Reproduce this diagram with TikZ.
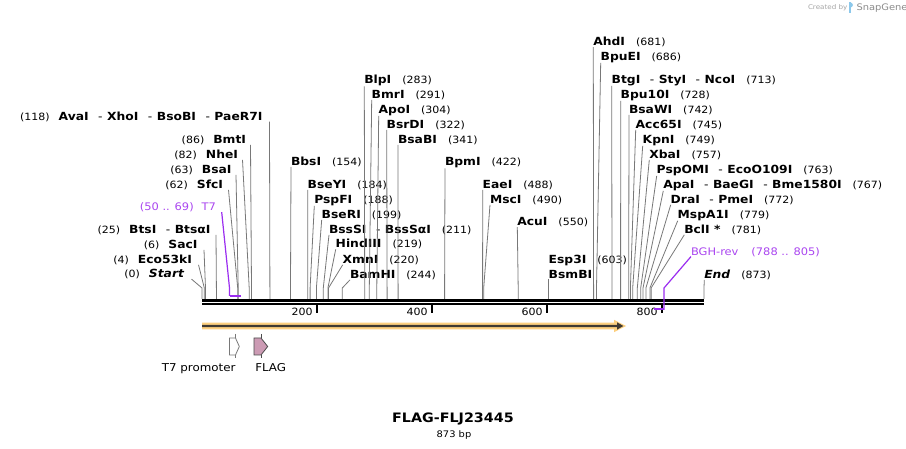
\documentclass[tikz,border=0pt]{standalone}
\usepackage{fontspec}
\setmainfont{DejaVu Sans}
\newfontfamily\vf[FakeStretch=1.1]{DejaVu Sans}
\newcommand\nmf{\vf\bfseries\fontsize{11.2}{12}\selectfont}
\newcommand\nbf{\vf\mdseries\upshape\fontsize{10}{11}\selectfont}
\newcommand\sepn{\hspace{9.5pt}{\mdseries -}\hspace{4.5pt}}
\definecolor{leadc}{RGB}{120,120,120}
\definecolor{purp}{RGB}{155,45,240}
\definecolor{purpt}{RGB}{170,70,240}
\definecolor{orangeL}{RGB}{253,208,128}
\definecolor{darkar}{RGB}{64,58,50}
\definecolor{flagc}{RGB}{204,155,180}
\definecolor{logoc}{RGB}{140,200,235}
\tikzset{
  lab/.style={inner sep=0pt,outer sep=0pt},
  lead/.style={draw=leadc,line width=0.8pt},
  prim/.style={draw=purp,line width=1.2pt},
  primbar/.style={draw=purp,line width=2pt},
  tick/.style={line width=1.6pt},
}
\newcommand\rlab[6]{%
  \node[lab,anchor=base west] (#1) at (#2,#3) {{\nmf #4}\hspace{11pt}{\nbf #5}};
  \coordinate (#1b) at (#6,288);
  \coordinate (#1s) at (#6,299);
  \draw[lead] (#1.south west) -- (#1b) -- (#1s);}
\newcommand\llab[7]{%
  \node[lab,anchor=base east] (#1) at (#2,#3) {{\nbf #4}\hspace{9pt}{\nmf #5}};
  \coordinate (#1b) at (#6,288);
  \coordinate (#1s) at (#6,299);
  \draw[lead] ([xshift=#7pt]#1.south east) -- (#1b) -- (#1s);}
\begin{document}
\begin{tikzpicture}[x=1pt,y=-1pt]
\useasboundingbox (0,0) rectangle (906,449);
\fill[white] (0,0) rectangle (906,449);

% watermark
\node[lab,anchor=base west,text=black!35,font=\vf\fontsize{6.5}{7}\selectfont] (wm1) at (808,10) {Created by};
\fill[logoc] (848.5,2.5) rectangle (850.5,13);
\fill[logoc] (850.5,2.5) -- (852,3.2) -- (853,5) -- (852,6.8) -- (850.5,7.5) -- cycle;
\node[lab,anchor=base west,text=black!45,font=\vf\fontsize{9}{10}\selectfont] (wm2) at (856.5,10.5) {SnapGene};

% left labels
\llab{lStart}{184}{277.8}{(0)}{{\itshape Start}}{202}{7.5}
\llab{lEco}{192}{263.5}{(4)}{Eco53kI}{204.3}{6.5}
\llab{lSac}{197.5}{248.5}{(6)}{SacI}{205.5}{6.5}
\llab{lBts}{210.5}{233.5}{(25)}{BtsI\sepn BtsαI}{216.4}{5.5}
\llab{lSfc}{223}{188.5}{(62)}{SfcI}{237.7}{5.5}
\llab{lBsa}{231.5}{173.5}{(63)}{BsaI}{238.2}{4.5}
\llab{lNhe}{238}{158.5}{(82)}{NheI}{249.2}{4.5}
\llab{lBmt}{246}{143.5}{(86)}{BmtI}{251.5}{4.5}
\llab{lAva}{262.5}{120.2}{(118)}{AvaI\sepn XhoI\sepn BsoBI\sepn PaeR7I}{269.9}{7}

% right labels
\rlab{rBbs}{291}{165.5}{BbsI}{(154)}{290.5}
\rlab{rBseY}{307.7}{188.5}{BseYI}{(184)}{307.8}
\rlab{rPspF}{314.3}{203.5}{PspFI}{(188)}{310.1}
\rlab{rBseR}{321.7}{218.5}{BseRI}{(199)}{316.4}
\rlab{rBssS}{329}{233.5}{BssSI\sepn BssSαI}{(211)}{323.3}
\rlab{rHind}{335.7}{248}{HindIII}{(219)}{327.9}
\rlab{rXmn}{342.7}{263.5}{XmnI}{(220)}{328.5}
\rlab{rBam}{350}{278.5}{BamHI}{(244)}{342.3}
\rlab{rBlp}{364.3}{84}{BlpI}{(283)}{364.7}
\rlab{rBmr}{371.7}{98.5}{BmrI}{(291)}{369.3}
\rlab{rApo}{378.7}{113.5}{ApoI}{(304)}{376.8}
\rlab{rBsrD}{386.7}{128.5}{BsrDI}{(322)}{387.1}
\rlab{rBsaB}{398}{143.5}{BsaBI}{(341)}{398.1}
\rlab{rBpm}{445}{166}{BpmI}{(422)}{444.6}
\rlab{rEae}{482.7}{188.5}{EaeI}{(488)}{482.6}
\rlab{rMsc}{490}{203.5}{MscI}{(490)}{483.7}
\rlab{rAcu}{517.3}{225.8}{AcuI}{(550)}{518.2}
\node[lab,anchor=base west] (rEsp) at (548.7,263.5) {{\nmf Esp3I}\hspace{11pt}{\nbf (603)}};
\rlab{rBsmB}{548.7}{278.5}{BsmBI}{}{548.7}
\rlab{rAhd}{593.3}{45.7}{AhdI}{(681)}{593.6}
\rlab{rBpuE}{600.7}{60.5}{BpuEI}{(686)}{596.5}
\rlab{rBtg}{611.7}{83.5}{BtgI\sepn StyI\sepn NcoI}{(713)}{612}
\rlab{rBpuT}{620.7}{98.5}{Bpu10I}{(728)}{620.6}
\rlab{rBsaW}{629}{113.5}{BsaWI}{(742)}{628.7}
\rlab{rAcc}{635.7}{128.5}{Acc65I}{(745)}{630.4}
\rlab{rKpn}{642.7}{143.5}{KpnI}{(749)}{632.7}
\rlab{rXba}{649.3}{158.5}{XbaI}{(757)}{637.3}
\rlab{rPspO}{656.7}{173.5}{PspOMI\sepn EcoO109I}{(763)}{640.7}
\rlab{rApa}{663.3}{188.5}{ApaI\sepn BaeGI\sepn Bme1580I}{(767)}{643}
\rlab{rDra}{670.7}{203.5}{DraI\sepn PmeI}{(772)}{645.9}
\rlab{rMsp}{677.7}{218.5}{MspA1I}{(779)}{649.9}
\rlab{rBcl}{684.3}{233.5}{BclI *}{(781)}{651.1}
\rlab{rEnd}{704.3}{278.5}{{\itshape End}}{(873)}{704}

% backbone
\coordinate (bbL) at (202,300.5); \coordinate (bbR) at (704,300.5);
\coordinate (bbL2) at (202,304.3); \coordinate (bbR2) at (704,304.3);
\draw[line width=3pt] (bbL) -- (bbR);
\draw[line width=1.8pt] (bbL2) -- (bbR2);

% ticks
\foreach \v/\xx in {200/317,400/432,600/547,800/662}{
  \coordinate (t\v a) at (\xx,305);
  \coordinate (t\v b) at (\xx,312.7);
  \draw[tick] (t\v a) -- (t\v b);
  \node[lab,anchor=base east,font=\nbf] (tl\v) at (\xx-4.3,315.7) {\v};
}

% primers
\node[lab,anchor=base east,text=purpt,font=\vf\fontsize{10.4}{12}\selectfont] (pT7) at (216,210.8) {(50 .. 69)\hspace{8pt}T7};
\coordinate (pT7b) at (229.5,288);
\coordinate (pT7s) at (229.5,296);
\coordinate (pT7e) at (240.5,296);
\draw[prim] ([xshift=5.7pt]pT7.south east) -- (pT7b) -- (pT7s);
\draw[primbar] (pT7s) -- (pT7e);

\node[lab,anchor=base west,text=purpt,font=\vf\fontsize{10.4}{12}\selectfont] (pBGH) at (691,255.2) {BGH-rev\hspace{13pt}(788 .. 805)};
\coordinate (pBGHb) at (664,288);
\coordinate (pBGHs) at (664,310);
\coordinate (pBGHe) at (654,308.7);
\draw[prim] (pBGH.south west) -- (pBGHb) -- (pBGHs);
\draw[primbar] (664,308.7) -- (pBGHe);

% ORF arrow
\fill[orangeL] (202,322.7) -- (614,322.7) -- (614,319.8) -- (626,326) -- (614,332.2) -- (614,329.3) -- (202,329.3) -- cycle;
\fill[darkar] (202,324.9) -- (617,324.9) -- (617,322.3) -- (623.3,326) -- (617,329.7) -- (617,327.1) -- (202,327.1) -- cycle;

% features
\draw[draw=leadc,fill=white,line width=0.8pt] (229.5,338) -- (235.5,338) -- (239.3,346.5) -- (235.5,355) -- (229.5,355) -- cycle;
\draw[leadc,line width=0.8pt] (235.5,334) -- (235.5,338) (235.5,355) -- (235.5,358.5);
\node[lab,anchor=base,font=\vf\fontsize{10.8}{12}\selectfont] (fT7) at (198.7,371.7) {T7 promoter};
\draw[draw=black!70,fill=flagc,line width=0.8pt] (254,338) -- (261,338) -- (267.7,346.5) -- (261,355) -- (254,355) -- cycle;
\draw[black!70,line width=0.8pt] (261,334) -- (261,338) (261,355) -- (261,358.5);
\node[lab,anchor=base,font=\vf\fontsize{10.8}{12}\selectfont] (fFLAG) at (270.7,371.7) {FLAG};

% title
\node[lab,anchor=base,font=\vf\bfseries\fontsize{13}{15}\selectfont] (title) at (453,422.5) {FLAG-FLJ23445};
\node[lab,anchor=base,font=\vf\fontsize{9}{10}\selectfont] (len) at (454,437) {873 bp};
\end{tikzpicture}
\end{document}
